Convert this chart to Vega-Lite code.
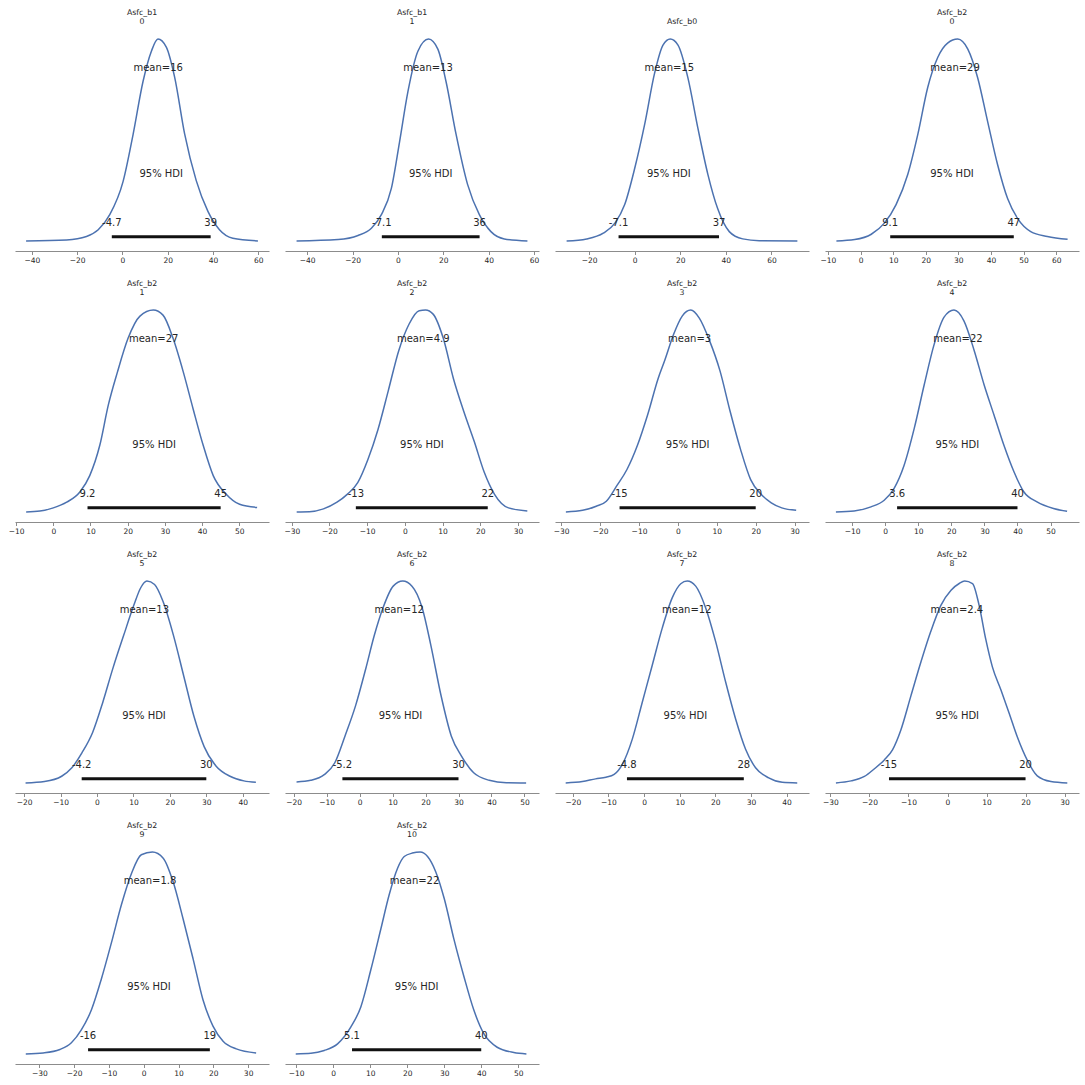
{
"$schema": "https://vega.github.io/schema/vega-lite/v6.json",
"background": "white",
"padding": {"left": 8, "top": 8, "right": 5, "bottom": 5},
"datasets": {
"curves": [
{"p":"A","x":-42.6,"y":0},{"p":"A","x":-24.7,"y":0.005},{"p":"A","x":-15.9,"y":0.022},{"p":"A","x":-10.7,"y":0.055},{"p":"A","x":-5.6,"y":0.13},{"p":"A","x":0.3,"y":0.295},{"p":"A","x":4.7,"y":0.527},{"p":"A","x":9.1,"y":0.79},{"p":"A","x":12.8,"y":0.94},{"p":"A","x":15.7,"y":1},{"p":"A","x":19.4,"y":0.96},{"p":"A","x":23.1,"y":0.81},{"p":"A","x":27.5,"y":0.53},{"p":"A","x":32.6,"y":0.3},{"p":"A","x":37.8,"y":0.146},{"p":"A","x":42.9,"y":0.055},{"p":"A","x":48.8,"y":0.013},{"p":"A","x":59.9,"y":0},
{"p":"B","x":-44.7,"y":0},{"p":"B","x":-26.4,"y":0.007},{"p":"B","x":-17.6,"y":0.027},{"p":"B","x":-11.7,"y":0.063},{"p":"B","x":-7.3,"y":0.13},{"p":"B","x":-2.9,"y":0.26},{"p":"B","x":0.7,"y":0.49},{"p":"B","x":4.4,"y":0.74},{"p":"B","x":8.8,"y":0.94},{"p":"B","x":13.5,"y":1},{"p":"B","x":17.6,"y":0.95},{"p":"B","x":21.2,"y":0.79},{"p":"B","x":25.6,"y":0.53},{"p":"B","x":30.7,"y":0.28},{"p":"B","x":35.9,"y":0.13},{"p":"B","x":41,"y":0.046},{"p":"B","x":46.9,"y":0.01},{"p":"B","x":57.1,"y":0},
{"p":"C","x":-29.9,"y":0},{"p":"C","x":-21.1,"y":0.01},{"p":"C","x":-13.8,"y":0.038},{"p":"C","x":-8.7,"y":0.088},{"p":"C","x":-4.4,"y":0.18},{"p":"C","x":0,"y":0.36},{"p":"C","x":4.4,"y":0.58},{"p":"C","x":8.7,"y":0.83},{"p":"C","x":12.4,"y":0.97},{"p":"C","x":15.6,"y":1},{"p":"C","x":19,"y":0.97},{"p":"C","x":23.3,"y":0.81},{"p":"C","x":27.7,"y":0.56},{"p":"C","x":32.1,"y":0.33},{"p":"C","x":36.4,"y":0.16},{"p":"C","x":41.5,"y":0.046},{"p":"C","x":47.4,"y":0.01},{"p":"C","x":54.7,"y":0.001},{"p":"C","x":71.4,"y":0},
{"p":"D","x":-7.4,"y":0},{"p":"D","x":-1.8,"y":0.007},{"p":"D","x":3.3,"y":0.033},{"p":"D","x":7.3,"y":0.088},{"p":"D","x":10.9,"y":0.18},{"p":"D","x":14.5,"y":0.33},{"p":"D","x":17.6,"y":0.53},{"p":"D","x":20.6,"y":0.76},{"p":"D","x":23.7,"y":0.91},{"p":"D","x":26.7,"y":0.98},{"p":"D","x":29.8,"y":1},{"p":"D","x":32.9,"y":0.95},{"p":"D","x":35.9,"y":0.81},{"p":"D","x":39,"y":0.59},{"p":"D","x":42,"y":0.38},{"p":"D","x":45.1,"y":0.21},{"p":"D","x":48.2,"y":0.11},{"p":"D","x":52.2,"y":0.046},{"p":"D","x":57.3,"y":0.022},{"p":"D","x":63.5,"y":0.008},
{"p":"E","x":-7.3,"y":0},{"p":"E","x":-3.6,"y":0.004},{"p":"E","x":0,"y":0.02},{"p":"E","x":3.6,"y":0.048},{"p":"E","x":7.2,"y":0.1},{"p":"E","x":9.8,"y":0.18},{"p":"E","x":12.5,"y":0.33},{"p":"E","x":14.8,"y":0.53},{"p":"E","x":17.2,"y":0.69},{"p":"E","x":20.1,"y":0.86},{"p":"E","x":23.3,"y":0.97},{"p":"E","x":26.9,"y":1},{"p":"E","x":29.5,"y":0.975},{"p":"E","x":32.2,"y":0.86},{"p":"E","x":35,"y":0.69},{"p":"E","x":37.6,"y":0.51},{"p":"E","x":40.3,"y":0.33},{"p":"E","x":43,"y":0.18},{"p":"E","x":46.5,"y":0.088},{"p":"E","x":50.1,"y":0.038},{"p":"E","x":54.8,"y":0.022},
{"p":"F","x":-28.7,"y":0},{"p":"F","x":-25.3,"y":0.001},{"p":"F","x":-21.6,"y":0.015},{"p":"F","x":-18,"y":0.048},{"p":"F","x":-15.3,"y":0.087},{"p":"F","x":-12.5,"y":0.145},{"p":"F","x":-9.8,"y":0.26},{"p":"F","x":-7.1,"y":0.41},{"p":"F","x":-4.4,"y":0.6},{"p":"F","x":-1.6,"y":0.8},{"p":"F","x":1.1,"y":0.93},{"p":"F","x":3.8,"y":0.997},{"p":"F","x":5.5,"y":1},{"p":"F","x":7.5,"y":0.98},{"p":"F","x":10.2,"y":0.86},{"p":"F","x":12.9,"y":0.66},{"p":"F","x":15.6,"y":0.5},{"p":"F","x":18.4,"y":0.35},{"p":"F","x":21.1,"y":0.195},{"p":"F","x":23.8,"y":0.087},{"p":"F","x":27.5,"y":0.02},{"p":"F","x":32.5,"y":0.005},
{"p":"G","x":-28.8,"y":0},{"p":"G","x":-24.5,"y":0.008},{"p":"G","x":-21,"y":0.028},{"p":"G","x":-18.4,"y":0.053},{"p":"G","x":-15.7,"y":0.13},{"p":"G","x":-13.1,"y":0.21},{"p":"G","x":-10.4,"y":0.33},{"p":"G","x":-7.8,"y":0.48},{"p":"G","x":-5.1,"y":0.66},{"p":"G","x":-3.4,"y":0.75},{"p":"G","x":-1.1,"y":0.88},{"p":"G","x":1.1,"y":0.97},{"p":"G","x":3.3,"y":1},{"p":"G","x":5.5,"y":0.96},{"p":"G","x":8.1,"y":0.85},{"p":"G","x":10.8,"y":0.7},{"p":"G","x":13.4,"y":0.5},{"p":"G","x":16.1,"y":0.31},{"p":"G","x":18.7,"y":0.16},{"p":"G","x":21.4,"y":0.087},{"p":"G","x":24,"y":0.045},{"p":"G","x":26.7,"y":0.02},{"p":"G","x":30.4,"y":0.008},
{"p":"H","x":-14.9,"y":0},{"p":"H","x":-9.4,"y":0.005},{"p":"H","x":-4.3,"y":0.025},{"p":"H","x":-0.3,"y":0.058},{"p":"H","x":2.7,"y":0.117},{"p":"H","x":5.7,"y":0.23},{"p":"H","x":8.8,"y":0.415},{"p":"H","x":11.8,"y":0.63},{"p":"H","x":14.8,"y":0.83},{"p":"H","x":17.8,"y":0.965},{"p":"H","x":20.8,"y":1},{"p":"H","x":23.8,"y":0.947},{"p":"H","x":26.9,"y":0.8},{"p":"H","x":29.9,"y":0.63},{"p":"H","x":32.9,"y":0.48},{"p":"H","x":35.9,"y":0.33},{"p":"H","x":38.9,"y":0.2},{"p":"H","x":41.9,"y":0.1},{"p":"H","x":45.9,"y":0.05},{"p":"H","x":50.9,"y":0.017},{"p":"H","x":55,"y":0.003},
{"p":"I","x":-19.6,"y":0},{"p":"I","x":-14.4,"y":0.007},{"p":"I","x":-9.7,"y":0.033},{"p":"I","x":-6.9,"y":0.075},{"p":"I","x":-4.1,"y":0.15},{"p":"I","x":-1.2,"y":0.25},{"p":"I","x":1.6,"y":0.4},{"p":"I","x":4.4,"y":0.57},{"p":"I","x":7.3,"y":0.73},{"p":"I","x":10.1,"y":0.88},{"p":"I","x":12,"y":0.967},{"p":"I","x":13.7,"y":1},{"p":"I","x":15.8,"y":0.983},{"p":"I","x":18.1,"y":0.9},{"p":"I","x":21,"y":0.73},{"p":"I","x":23.8,"y":0.53},{"p":"I","x":26.6,"y":0.33},{"p":"I","x":29.4,"y":0.18},{"p":"I","x":32.7,"y":0.083},{"p":"I","x":36.5,"y":0.033},{"p":"I","x":40.3,"y":0.01},{"p":"I","x":43.6,"y":0.003},
{"p":"J","x":-19.1,"y":0.005},{"p":"J","x":-14.8,"y":0.013},{"p":"J","x":-10.6,"y":0.042},{"p":"J","x":-7.5,"y":0.1},{"p":"J","x":-4.4,"y":0.233},{"p":"J","x":-1.2,"y":0.383},{"p":"J","x":1.9,"y":0.567},{"p":"J","x":4.5,"y":0.733},{"p":"J","x":7.1,"y":0.867},{"p":"J","x":10.2,"y":0.975},{"p":"J","x":13.1,"y":1},{"p":"J","x":15.9,"y":0.975},{"p":"J","x":19,"y":0.867},{"p":"J","x":21.6,"y":0.683},{"p":"J","x":24.7,"y":0.433},{"p":"J","x":27.8,"y":0.233},{"p":"J","x":30.9,"y":0.133},{"p":"J","x":34.6,"y":0.05},{"p":"J","x":39.3,"y":0.013},{"p":"J","x":44.5,"y":0.001},{"p":"J","x":50.5,"y":0},
{"p":"K","x":-22,"y":0},{"p":"K","x":-17.3,"y":0.007},{"p":"K","x":-13.6,"y":0.02},{"p":"K","x":-10.7,"y":0.028},{"p":"K","x":-8.4,"y":0.042},{"p":"K","x":-6.1,"y":0.092},{"p":"K","x":-3.3,"y":0.217},{"p":"K","x":-0.5,"y":0.4},{"p":"K","x":2.3,"y":0.583},{"p":"K","x":5.1,"y":0.767},{"p":"K","x":7.9,"y":0.917},{"p":"K","x":10.3,"y":0.987},{"p":"K","x":12.1,"y":1},{"p":"K","x":14.5,"y":0.975},{"p":"K","x":17.3,"y":0.867},{"p":"K","x":20.1,"y":0.7},{"p":"K","x":22.9,"y":0.5},{"p":"K","x":25.7,"y":0.317},{"p":"K","x":28.5,"y":0.167},{"p":"K","x":31.3,"y":0.075},{"p":"K","x":35,"y":0.025},{"p":"K","x":38.8,"y":0.003},{"p":"K","x":43,"y":0},
{"p":"L","x":-28.6,"y":0},{"p":"L","x":-24.7,"y":0.01},{"p":"L","x":-21.3,"y":0.032},{"p":"L","x":-18.8,"y":0.069},{"p":"L","x":-16.2,"y":0.114},{"p":"L","x":-14.1,"y":0.164},{"p":"L","x":-12,"y":0.26},{"p":"L","x":-9.4,"y":0.43},{"p":"L","x":-6.8,"y":0.6},{"p":"L","x":-4.3,"y":0.75},{"p":"L","x":-1.7,"y":0.88},{"p":"L","x":0.9,"y":0.955},{"p":"L","x":3,"y":0.988},{"p":"L","x":4.4,"y":1},{"p":"L","x":6.4,"y":0.988},{"p":"L","x":8.1,"y":0.88},{"p":"L","x":9.8,"y":0.712},{"p":"L","x":11.5,"y":0.575},{"p":"L","x":13.7,"y":0.46},{"p":"L","x":15.8,"y":0.345},{"p":"L","x":17.9,"y":0.227},{"p":"L","x":20.5,"y":0.11},{"p":"L","x":23,"y":0.035},{"p":"L","x":26.5,"y":0.007},{"p":"L","x":30.7,"y":0},
{"p":"M","x":-33.9,"y":0},{"p":"M","x":-28.9,"y":0.005},{"p":"M","x":-24.1,"y":0.022},{"p":"M","x":-20.8,"y":0.055},{"p":"M","x":-17.9,"y":0.12},{"p":"M","x":-15,"y":0.22},{"p":"M","x":-12.2,"y":0.37},{"p":"M","x":-9.3,"y":0.55},{"p":"M","x":-6.4,"y":0.74},{"p":"M","x":-3.5,"y":0.895},{"p":"M","x":-0.7,"y":0.987},{"p":"M","x":2.5,"y":1},{"p":"M","x":5.6,"y":0.97},{"p":"M","x":8.4,"y":0.855},{"p":"M","x":11.3,"y":0.67},{"p":"M","x":14.2,"y":0.47},{"p":"M","x":17,"y":0.27},{"p":"M","x":19.9,"y":0.138},{"p":"M","x":22.8,"y":0.063},{"p":"M","x":26.6,"y":0.025},{"p":"M","x":32.3,"y":0.005},
{"p":"N","x":-10.1,"y":0},{"p":"N","x":-6,"y":0.003},{"p":"N","x":-2.4,"y":0.017},{"p":"N","x":1.2,"y":0.05},{"p":"N","x":4.8,"y":0.134},{"p":"N","x":7.5,"y":0.234},{"p":"N","x":10.2,"y":0.418},{"p":"N","x":12.9,"y":0.62},{"p":"N","x":15.1,"y":0.786},{"p":"N","x":17.4,"y":0.92},{"p":"N","x":19.2,"y":0.978},{"p":"N","x":21.4,"y":0.995},{"p":"N","x":23.5,"y":1},{"p":"N","x":25.5,"y":0.978},{"p":"N","x":27.7,"y":0.903},{"p":"N","x":30,"y":0.77},{"p":"N","x":32.6,"y":0.57},{"p":"N","x":35.3,"y":0.385},{"p":"N","x":38,"y":0.217},{"p":"N","x":40.7,"y":0.1},{"p":"N","x":44.3,"y":0.033},{"p":"N","x":48.8,"y":0.007},{"p":"N","x":52.2,"y":0}
],
"stats": [
{"p":"A","mean":15.8,"lo":-4.7,"hi":39,"mid":17.15,"ml":"mean=16","ll":"-4.7","hl":"39"},
{"p":"B","mean":13.3,"lo":-7.1,"hi":36,"mid":14.45,"ml":"mean=13","ll":"-7.1","hl":"36"},
{"p":"C","mean":15.2,"lo":-7.1,"hi":37,"mid":14.95,"ml":"mean=15","ll":"-7.1","hl":"37"},
{"p":"D","mean":29,"lo":9.1,"hi":47,"mid":28.05,"ml":"mean=29","ll":"9.1","hl":"47"},
{"p":"E","mean":27,"lo":9.2,"hi":45,"mid":27.1,"ml":"mean=27","ll":"9.2","hl":"45"},
{"p":"F","mean":4.9,"lo":-13,"hi":22,"mid":4.5,"ml":"mean=4.9","ll":"-13","hl":"22"},
{"p":"G","mean":3,"lo":-15,"hi":20,"mid":2.5,"ml":"mean=3","ll":"-15","hl":"20"},
{"p":"H","mean":22,"lo":3.6,"hi":40,"mid":21.8,"ml":"mean=22","ll":"3.6","hl":"40"},
{"p":"I","mean":13,"lo":-4.2,"hi":30,"mid":12.9,"ml":"mean=13","ll":"-4.2","hl":"30"},
{"p":"J","mean":12,"lo":-5.2,"hi":30,"mid":12.4,"ml":"mean=12","ll":"-5.2","hl":"30"},
{"p":"K","mean":12,"lo":-4.8,"hi":28,"mid":11.6,"ml":"mean=12","ll":"-4.8","hl":"28"},
{"p":"L","mean":2.4,"lo":-15,"hi":20,"mid":2.5,"ml":"mean=2.4","ll":"-15","hl":"20"},
{"p":"M","mean":1.8,"lo":-16,"hi":19,"mid":1.5,"ml":"mean=1.8","ll":"-16","hl":"19"},
{"p":"N","mean":22,"lo":5.1,"hi":40,"mid":22.55,"ml":"mean=22","ll":"5.1","hl":"40"}
]
},
"columns": 4,
"spacing": {"row": 49, "column": 16},
"bounds": "flush",
"concat": [
{"title": {"text": ["Asfc_b1","0"]}, "width": 254, "height": 222, "layer": [
 {"data": {"name": "curves"}, "transform": [{"filter": "datum.p=='A'"}], "mark": "line", "encoding": {"x": {"field": "x", "type": "quantitative", "title": null, "scale": {"domain": [-47.5,64.8], "nice": false, "zero": false}, "axis": {"values": [-40,-20,0,20,40,60], "tickCount": 30, "labelOverlap": false}}, "y": {"field": "y", "type": "quantitative", "scale": {"domain": [-0.05,1.05], "nice": false, "zero": false}, "axis": null}}},
 {"data": {"name": "stats"}, "transform": [{"filter": "datum.p=='A'"}], "layer": [
  {"mark": "rule", "encoding": {"x": {"field": "lo", "type": "quantitative", "title": null}, "x2": {"field": "hi"}, "y": {"datum": 0.021}}},
  {"mark": "text", "encoding": {"x": {"field": "mean", "type": "quantitative", "title": null}, "y": {"datum": 0.84}, "text": {"field": "ml"}}},
  {"mark": "text", "encoding": {"x": {"field": "mid", "type": "quantitative", "title": null}, "y": {"datum": 0.315}, "text": {"value": "95% HDI"}}},
  {"mark": "text", "encoding": {"x": {"field": "lo", "type": "quantitative", "title": null}, "y": {"datum": 0.0735}, "text": {"field": "ll"}}},
  {"mark": "text", "encoding": {"x": {"field": "hi", "type": "quantitative", "title": null}, "y": {"datum": 0.0735}, "text": {"field": "hl"}}}
 ]}
]},
{"title": {"text": ["Asfc_b1","1"]}, "width": 254, "height": 222, "layer": [
 {"data": {"name": "curves"}, "transform": [{"filter": "datum.p=='B'"}], "mark": "line", "encoding": {"x": {"field": "x", "type": "quantitative", "title": null, "scale": {"domain": [-49.8,62.2], "nice": false, "zero": false}, "axis": {"values": [-40,-20,0,20,40,60], "tickCount": 30, "labelOverlap": false}}, "y": {"field": "y", "type": "quantitative", "scale": {"domain": [-0.05,1.05], "nice": false, "zero": false}, "axis": null}}},
 {"data": {"name": "stats"}, "transform": [{"filter": "datum.p=='B'"}], "layer": [
  {"mark": "rule", "encoding": {"x": {"field": "lo", "type": "quantitative", "title": null}, "x2": {"field": "hi"}, "y": {"datum": 0.021}}},
  {"mark": "text", "encoding": {"x": {"field": "mean", "type": "quantitative", "title": null}, "y": {"datum": 0.84}, "text": {"field": "ml"}}},
  {"mark": "text", "encoding": {"x": {"field": "mid", "type": "quantitative", "title": null}, "y": {"datum": 0.315}, "text": {"value": "95% HDI"}}},
  {"mark": "text", "encoding": {"x": {"field": "lo", "type": "quantitative", "title": null}, "y": {"datum": 0.0735}, "text": {"field": "ll"}}},
  {"mark": "text", "encoding": {"x": {"field": "hi", "type": "quantitative", "title": null}, "y": {"datum": 0.0735}, "text": {"field": "hl"}}}
 ]}
]},
{"title": {"text": "Asfc_b0"}, "width": 254, "height": 222, "layer": [
 {"data": {"name": "curves"}, "transform": [{"filter": "datum.p=='C'"}], "mark": "line", "encoding": {"x": {"field": "x", "type": "quantitative", "title": null, "scale": {"domain": [-35,76.5], "nice": false, "zero": false}, "axis": {"values": [-20,0,20,40,60], "tickCount": 30, "labelOverlap": false}}, "y": {"field": "y", "type": "quantitative", "scale": {"domain": [-0.05,1.05], "nice": false, "zero": false}, "axis": null}}},
 {"data": {"name": "stats"}, "transform": [{"filter": "datum.p=='C'"}], "layer": [
  {"mark": "rule", "encoding": {"x": {"field": "lo", "type": "quantitative", "title": null}, "x2": {"field": "hi"}, "y": {"datum": 0.021}}},
  {"mark": "text", "encoding": {"x": {"field": "mean", "type": "quantitative", "title": null}, "y": {"datum": 0.84}, "text": {"field": "ml"}}},
  {"mark": "text", "encoding": {"x": {"field": "mid", "type": "quantitative", "title": null}, "y": {"datum": 0.315}, "text": {"value": "95% HDI"}}},
  {"mark": "text", "encoding": {"x": {"field": "lo", "type": "quantitative", "title": null}, "y": {"datum": 0.0735}, "text": {"field": "ll"}}},
  {"mark": "text", "encoding": {"x": {"field": "hi", "type": "quantitative", "title": null}, "y": {"datum": 0.0735}, "text": {"field": "hl"}}}
 ]}
]},
{"title": {"text": ["Asfc_b2","0"]}, "width": 254, "height": 222, "layer": [
 {"data": {"name": "curves"}, "transform": [{"filter": "datum.p=='D'"}], "mark": "line", "encoding": {"x": {"field": "x", "type": "quantitative", "title": null, "scale": {"domain": [-10.9,67], "nice": false, "zero": false}, "axis": {"values": [-10,0,10,20,30,40,50,60], "tickCount": 30, "labelOverlap": false}}, "y": {"field": "y", "type": "quantitative", "scale": {"domain": [-0.05,1.05], "nice": false, "zero": false}, "axis": null}}},
 {"data": {"name": "stats"}, "transform": [{"filter": "datum.p=='D'"}], "layer": [
  {"mark": "rule", "encoding": {"x": {"field": "lo", "type": "quantitative", "title": null}, "x2": {"field": "hi"}, "y": {"datum": 0.021}}},
  {"mark": "text", "encoding": {"x": {"field": "mean", "type": "quantitative", "title": null}, "y": {"datum": 0.84}, "text": {"field": "ml"}}},
  {"mark": "text", "encoding": {"x": {"field": "mid", "type": "quantitative", "title": null}, "y": {"datum": 0.315}, "text": {"value": "95% HDI"}}},
  {"mark": "text", "encoding": {"x": {"field": "lo", "type": "quantitative", "title": null}, "y": {"datum": 0.0735}, "text": {"field": "ll"}}},
  {"mark": "text", "encoding": {"x": {"field": "hi", "type": "quantitative", "title": null}, "y": {"datum": 0.0735}, "text": {"field": "hl"}}}
 ]}
]},
{"title": {"text": ["Asfc_b2","1"]}, "width": 254, "height": 222, "layer": [
 {"data": {"name": "curves"}, "transform": [{"filter": "datum.p=='E'"}], "mark": "line", "encoding": {"x": {"field": "x", "type": "quantitative", "title": null, "scale": {"domain": [-10.3,58], "nice": false, "zero": false}, "axis": {"values": [-10,0,10,20,30,40,50], "tickCount": 30, "labelOverlap": false}}, "y": {"field": "y", "type": "quantitative", "scale": {"domain": [-0.05,1.05], "nice": false, "zero": false}, "axis": null}}},
 {"data": {"name": "stats"}, "transform": [{"filter": "datum.p=='E'"}], "layer": [
  {"mark": "rule", "encoding": {"x": {"field": "lo", "type": "quantitative", "title": null}, "x2": {"field": "hi"}, "y": {"datum": 0.021}}},
  {"mark": "text", "encoding": {"x": {"field": "mean", "type": "quantitative", "title": null}, "y": {"datum": 0.84}, "text": {"field": "ml"}}},
  {"mark": "text", "encoding": {"x": {"field": "mid", "type": "quantitative", "title": null}, "y": {"datum": 0.315}, "text": {"value": "95% HDI"}}},
  {"mark": "text", "encoding": {"x": {"field": "lo", "type": "quantitative", "title": null}, "y": {"datum": 0.0735}, "text": {"field": "ll"}}},
  {"mark": "text", "encoding": {"x": {"field": "hi", "type": "quantitative", "title": null}, "y": {"datum": 0.0735}, "text": {"field": "hl"}}}
 ]}
]},
{"title": {"text": ["Asfc_b2","2"]}, "width": 254, "height": 222, "layer": [
 {"data": {"name": "curves"}, "transform": [{"filter": "datum.p=='F'"}], "mark": "line", "encoding": {"x": {"field": "x", "type": "quantitative", "title": null, "scale": {"domain": [-31.8,35.6], "nice": false, "zero": false}, "axis": {"values": [-30,-20,-10,0,10,20,30], "tickCount": 30, "labelOverlap": false}}, "y": {"field": "y", "type": "quantitative", "scale": {"domain": [-0.05,1.05], "nice": false, "zero": false}, "axis": null}}},
 {"data": {"name": "stats"}, "transform": [{"filter": "datum.p=='F'"}], "layer": [
  {"mark": "rule", "encoding": {"x": {"field": "lo", "type": "quantitative", "title": null}, "x2": {"field": "hi"}, "y": {"datum": 0.021}}},
  {"mark": "text", "encoding": {"x": {"field": "mean", "type": "quantitative", "title": null}, "y": {"datum": 0.84}, "text": {"field": "ml"}}},
  {"mark": "text", "encoding": {"x": {"field": "mid", "type": "quantitative", "title": null}, "y": {"datum": 0.315}, "text": {"value": "95% HDI"}}},
  {"mark": "text", "encoding": {"x": {"field": "lo", "type": "quantitative", "title": null}, "y": {"datum": 0.0735}, "text": {"field": "ll"}}},
  {"mark": "text", "encoding": {"x": {"field": "hi", "type": "quantitative", "title": null}, "y": {"datum": 0.0735}, "text": {"field": "hl"}}}
 ]}
]},
{"title": {"text": ["Asfc_b2","3"]}, "width": 254, "height": 222, "layer": [
 {"data": {"name": "curves"}, "transform": [{"filter": "datum.p=='G'"}], "mark": "line", "encoding": {"x": {"field": "x", "type": "quantitative", "title": null, "scale": {"domain": [-31.6,33.7], "nice": false, "zero": false}, "axis": {"values": [-30,-20,-10,0,10,20,30], "tickCount": 30, "labelOverlap": false}}, "y": {"field": "y", "type": "quantitative", "scale": {"domain": [-0.05,1.05], "nice": false, "zero": false}, "axis": null}}},
 {"data": {"name": "stats"}, "transform": [{"filter": "datum.p=='G'"}], "layer": [
  {"mark": "rule", "encoding": {"x": {"field": "lo", "type": "quantitative", "title": null}, "x2": {"field": "hi"}, "y": {"datum": 0.021}}},
  {"mark": "text", "encoding": {"x": {"field": "mean", "type": "quantitative", "title": null}, "y": {"datum": 0.84}, "text": {"field": "ml"}}},
  {"mark": "text", "encoding": {"x": {"field": "mid", "type": "quantitative", "title": null}, "y": {"datum": 0.315}, "text": {"value": "95% HDI"}}},
  {"mark": "text", "encoding": {"x": {"field": "lo", "type": "quantitative", "title": null}, "y": {"datum": 0.0735}, "text": {"field": "ll"}}},
  {"mark": "text", "encoding": {"x": {"field": "hi", "type": "quantitative", "title": null}, "y": {"datum": 0.0735}, "text": {"field": "hl"}}}
 ]}
]},
{"title": {"text": ["Asfc_b2","4"]}, "width": 254, "height": 222, "layer": [
 {"data": {"name": "curves"}, "transform": [{"filter": "datum.p=='H'"}], "mark": "line", "encoding": {"x": {"field": "x", "type": "quantitative", "title": null, "scale": {"domain": [-18.2,58.6], "nice": false, "zero": false}, "axis": {"values": [-10,0,10,20,30,40,50], "tickCount": 30, "labelOverlap": false}}, "y": {"field": "y", "type": "quantitative", "scale": {"domain": [-0.05,1.05], "nice": false, "zero": false}, "axis": null}}},
 {"data": {"name": "stats"}, "transform": [{"filter": "datum.p=='H'"}], "layer": [
  {"mark": "rule", "encoding": {"x": {"field": "lo", "type": "quantitative", "title": null}, "x2": {"field": "hi"}, "y": {"datum": 0.021}}},
  {"mark": "text", "encoding": {"x": {"field": "mean", "type": "quantitative", "title": null}, "y": {"datum": 0.84}, "text": {"field": "ml"}}},
  {"mark": "text", "encoding": {"x": {"field": "mid", "type": "quantitative", "title": null}, "y": {"datum": 0.315}, "text": {"value": "95% HDI"}}},
  {"mark": "text", "encoding": {"x": {"field": "lo", "type": "quantitative", "title": null}, "y": {"datum": 0.0735}, "text": {"field": "ll"}}},
  {"mark": "text", "encoding": {"x": {"field": "hi", "type": "quantitative", "title": null}, "y": {"datum": 0.0735}, "text": {"field": "hl"}}}
 ]}
]},
{"title": {"text": ["Asfc_b2","5"]}, "width": 254, "height": 222, "layer": [
 {"data": {"name": "curves"}, "transform": [{"filter": "datum.p=='I'"}], "mark": "line", "encoding": {"x": {"field": "x", "type": "quantitative", "title": null, "scale": {"domain": [-22.5,47.2], "nice": false, "zero": false}, "axis": {"values": [-20,-10,0,10,20,30,40], "tickCount": 30, "labelOverlap": false}}, "y": {"field": "y", "type": "quantitative", "scale": {"domain": [-0.05,1.05], "nice": false, "zero": false}, "axis": null}}},
 {"data": {"name": "stats"}, "transform": [{"filter": "datum.p=='I'"}], "layer": [
  {"mark": "rule", "encoding": {"x": {"field": "lo", "type": "quantitative", "title": null}, "x2": {"field": "hi"}, "y": {"datum": 0.021}}},
  {"mark": "text", "encoding": {"x": {"field": "mean", "type": "quantitative", "title": null}, "y": {"datum": 0.84}, "text": {"field": "ml"}}},
  {"mark": "text", "encoding": {"x": {"field": "mid", "type": "quantitative", "title": null}, "y": {"datum": 0.315}, "text": {"value": "95% HDI"}}},
  {"mark": "text", "encoding": {"x": {"field": "lo", "type": "quantitative", "title": null}, "y": {"datum": 0.0735}, "text": {"field": "ll"}}},
  {"mark": "text", "encoding": {"x": {"field": "hi", "type": "quantitative", "title": null}, "y": {"datum": 0.0735}, "text": {"field": "hl"}}}
 ]}
]},
{"title": {"text": ["Asfc_b2","6"]}, "width": 254, "height": 222, "layer": [
 {"data": {"name": "curves"}, "transform": [{"filter": "datum.p=='J'"}], "mark": "line", "encoding": {"x": {"field": "x", "type": "quantitative", "title": null, "scale": {"domain": [-22.6,54.4], "nice": false, "zero": false}, "axis": {"values": [-20,-10,0,10,20,30,40,50], "tickCount": 30, "labelOverlap": false}}, "y": {"field": "y", "type": "quantitative", "scale": {"domain": [-0.05,1.05], "nice": false, "zero": false}, "axis": null}}},
 {"data": {"name": "stats"}, "transform": [{"filter": "datum.p=='J'"}], "layer": [
  {"mark": "rule", "encoding": {"x": {"field": "lo", "type": "quantitative", "title": null}, "x2": {"field": "hi"}, "y": {"datum": 0.021}}},
  {"mark": "text", "encoding": {"x": {"field": "mean", "type": "quantitative", "title": null}, "y": {"datum": 0.84}, "text": {"field": "ml"}}},
  {"mark": "text", "encoding": {"x": {"field": "mid", "type": "quantitative", "title": null}, "y": {"datum": 0.315}, "text": {"value": "95% HDI"}}},
  {"mark": "text", "encoding": {"x": {"field": "lo", "type": "quantitative", "title": null}, "y": {"datum": 0.0735}, "text": {"field": "ll"}}},
  {"mark": "text", "encoding": {"x": {"field": "hi", "type": "quantitative", "title": null}, "y": {"datum": 0.0735}, "text": {"field": "hl"}}}
 ]}
]},
{"title": {"text": ["Asfc_b2","7"]}, "width": 254, "height": 222, "layer": [
 {"data": {"name": "curves"}, "transform": [{"filter": "datum.p=='K'"}], "mark": "line", "encoding": {"x": {"field": "x", "type": "quantitative", "title": null, "scale": {"domain": [-25,46.3], "nice": false, "zero": false}, "axis": {"values": [-20,-10,0,10,20,30,40], "tickCount": 30, "labelOverlap": false}}, "y": {"field": "y", "type": "quantitative", "scale": {"domain": [-0.05,1.05], "nice": false, "zero": false}, "axis": null}}},
 {"data": {"name": "stats"}, "transform": [{"filter": "datum.p=='K'"}], "layer": [
  {"mark": "rule", "encoding": {"x": {"field": "lo", "type": "quantitative", "title": null}, "x2": {"field": "hi"}, "y": {"datum": 0.021}}},
  {"mark": "text", "encoding": {"x": {"field": "mean", "type": "quantitative", "title": null}, "y": {"datum": 0.84}, "text": {"field": "ml"}}},
  {"mark": "text", "encoding": {"x": {"field": "mid", "type": "quantitative", "title": null}, "y": {"datum": 0.315}, "text": {"value": "95% HDI"}}},
  {"mark": "text", "encoding": {"x": {"field": "lo", "type": "quantitative", "title": null}, "y": {"datum": 0.0735}, "text": {"field": "ll"}}},
  {"mark": "text", "encoding": {"x": {"field": "hi", "type": "quantitative", "title": null}, "y": {"datum": 0.0735}, "text": {"field": "hl"}}}
 ]}
]},
{"title": {"text": ["Asfc_b2","8"]}, "width": 254, "height": 222, "layer": [
 {"data": {"name": "curves"}, "transform": [{"filter": "datum.p=='L'"}], "mark": "line", "encoding": {"x": {"field": "x", "type": "quantitative", "title": null, "scale": {"domain": [-31.4,33.7], "nice": false, "zero": false}, "axis": {"values": [-30,-20,-10,0,10,20,30], "tickCount": 30, "labelOverlap": false}}, "y": {"field": "y", "type": "quantitative", "scale": {"domain": [-0.05,1.05], "nice": false, "zero": false}, "axis": null}}},
 {"data": {"name": "stats"}, "transform": [{"filter": "datum.p=='L'"}], "layer": [
  {"mark": "rule", "encoding": {"x": {"field": "lo", "type": "quantitative", "title": null}, "x2": {"field": "hi"}, "y": {"datum": 0.021}}},
  {"mark": "text", "encoding": {"x": {"field": "mean", "type": "quantitative", "title": null}, "y": {"datum": 0.84}, "text": {"field": "ml"}}},
  {"mark": "text", "encoding": {"x": {"field": "mid", "type": "quantitative", "title": null}, "y": {"datum": 0.315}, "text": {"value": "95% HDI"}}},
  {"mark": "text", "encoding": {"x": {"field": "lo", "type": "quantitative", "title": null}, "y": {"datum": 0.0735}, "text": {"field": "ll"}}},
  {"mark": "text", "encoding": {"x": {"field": "hi", "type": "quantitative", "title": null}, "y": {"datum": 0.0735}, "text": {"field": "hl"}}}
 ]}
]},
{"title": {"text": ["Asfc_b2","9"]}, "width": 254, "height": 222, "layer": [
 {"data": {"name": "curves"}, "transform": [{"filter": "datum.p=='M'"}], "mark": "line", "encoding": {"x": {"field": "x", "type": "quantitative", "title": null, "scale": {"domain": [-37,36], "nice": false, "zero": false}, "axis": {"values": [-30,-20,-10,0,10,20,30], "tickCount": 30, "labelOverlap": false}}, "y": {"field": "y", "type": "quantitative", "scale": {"domain": [-0.05,1.05], "nice": false, "zero": false}, "axis": null}}},
 {"data": {"name": "stats"}, "transform": [{"filter": "datum.p=='M'"}], "layer": [
  {"mark": "rule", "encoding": {"x": {"field": "lo", "type": "quantitative", "title": null}, "x2": {"field": "hi"}, "y": {"datum": 0.021}}},
  {"mark": "text", "encoding": {"x": {"field": "mean", "type": "quantitative", "title": null}, "y": {"datum": 0.84}, "text": {"field": "ml"}}},
  {"mark": "text", "encoding": {"x": {"field": "mid", "type": "quantitative", "title": null}, "y": {"datum": 0.315}, "text": {"value": "95% HDI"}}},
  {"mark": "text", "encoding": {"x": {"field": "lo", "type": "quantitative", "title": null}, "y": {"datum": 0.0735}, "text": {"field": "ll"}}},
  {"mark": "text", "encoding": {"x": {"field": "hi", "type": "quantitative", "title": null}, "y": {"datum": 0.0735}, "text": {"field": "hl"}}}
 ]}
]},
{"title": {"text": ["Asfc_b2","10"]}, "width": 254, "height": 222, "layer": [
 {"data": {"name": "curves"}, "transform": [{"filter": "datum.p=='N'"}], "mark": "line", "encoding": {"x": {"field": "x", "type": "quantitative", "title": null, "scale": {"domain": [-13,55.6], "nice": false, "zero": false}, "axis": {"values": [-10,0,10,20,30,40,50], "tickCount": 30, "labelOverlap": false}}, "y": {"field": "y", "type": "quantitative", "scale": {"domain": [-0.05,1.05], "nice": false, "zero": false}, "axis": null}}},
 {"data": {"name": "stats"}, "transform": [{"filter": "datum.p=='N'"}], "layer": [
  {"mark": "rule", "encoding": {"x": {"field": "lo", "type": "quantitative", "title": null}, "x2": {"field": "hi"}, "y": {"datum": 0.021}}},
  {"mark": "text", "encoding": {"x": {"field": "mean", "type": "quantitative", "title": null}, "y": {"datum": 0.84}, "text": {"field": "ml"}}},
  {"mark": "text", "encoding": {"x": {"field": "mid", "type": "quantitative", "title": null}, "y": {"datum": 0.315}, "text": {"value": "95% HDI"}}},
  {"mark": "text", "encoding": {"x": {"field": "lo", "type": "quantitative", "title": null}, "y": {"datum": 0.0735}, "text": {"field": "ll"}}},
  {"mark": "text", "encoding": {"x": {"field": "hi", "type": "quantitative", "title": null}, "y": {"datum": 0.0735}, "text": {"field": "hl"}}}
 ]}
]}
],
"config": {
 "font": "DejaVu Sans",
 "view": {"stroke": null},
 "title": {"fontSize": 7.8, "fontWeight": "normal", "color": "#262626", "offset": 3, "lineHeight": 9.5, "font": "DejaVu Sans"},
 "axisX": {"domainColor": "#8c8c8c", "domainWidth": 1.2, "tickColor": "#8c8c8c", "tickSize": 3.5, "tickWidth": 1, "labelFontSize": 7.5, "labelColor": "#262626", "labelPadding": 2, "grid": false, "labelFlush": false, "labelOverlap": false, "labelFont": "DejaVu Sans", "tickCount": 30},
 "line": {"color": "#4c72b0", "strokeWidth": 1.5, "interpolate": "monotone"},
 "rule": {"color": "#111111", "strokeWidth": 3, "strokeCap": "butt"},
 "text": {"fontSize": 10, "color": "#262626", "align": "center", "baseline": "alphabetic", "font": "DejaVu Sans"}
}
}
